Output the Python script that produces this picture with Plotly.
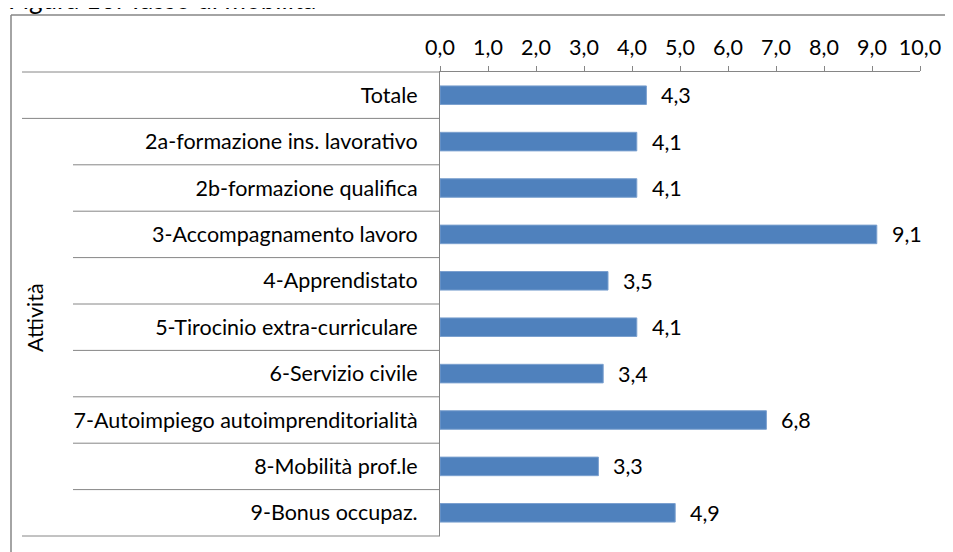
import plotly.graph_objects as go

title_text = "Figura 10. Tasso di mobilità"
categories = [
    "Totale",
    "2a-formazione ins. lavorativo",
    "2b-formazione qualifica",
    "3-Accompagnamento lavoro",
    "4-Apprendistato",
    "5-Tirocinio extra-curriculare",
    "6-Servizio civile",
    "7-Autoimpiego autoimprenditorialità",
    "8-Mobilità prof.le",
    "9-Bonus occupaz.",
]
values = [4.3, 4.1, 4.1, 9.1, 3.5, 4.1, 3.4, 6.8, 3.3, 4.9]
group_label = "Attività"
group_start = 1  # index of first category in the "Attività" group

# page has an 8px body margin; figure coordinates = page coordinates - 8
W, H = 945, 544
L, R, T, B = 432, 912, 64, 528  # plot area in figure pixels

def px_x(p):
    return (p - L) / (R - L)

def px_y(p):
    return (B - p) / (B - T)

FONT = "Lato, Carlito, Calibri, sans-serif"
FS = 21.5
GRAY = "#868686"

fig = go.Figure()
fig.add_trace(go.Bar(
    x=values,
    y=categories,
    orientation="h",
    width=0.4,
    marker=dict(color="#4F81BD", line=dict(color="#7BA0CF", width=1)),
    hoverinfo="skip",
))

n = len(categories)
shapes = []
for i in range(n + 1):
    yp = 1 - i / n
    full = (i == 0 or i == group_start or i == n)
    x0 = px_x(14) if full else px_x(65)
    shapes.append(dict(type="line", xref="paper", yref="paper",
                       x0=x0, x1=0, y0=yp, y1=yp,
                       line=dict(color=GRAY, width=1)))
# outer chart border (left and top)
shapes.append(dict(type="line", xref="paper", yref="paper",
                   x0=px_x(3), x1=px_x(3), y0=px_y(7), y1=px_y(560),
                   line=dict(color=GRAY, width=1.5)))
shapes.append(dict(type="line", xref="paper", yref="paper",
                   x0=px_x(3), x1=px_x(960), y0=px_y(7), y1=px_y(7),
                   line=dict(color=GRAY, width=1.5)))

annotations = [
    dict(text=group_label, xref="paper", yref="paper",
         x=px_x(27), y=px_y(310), textangle=-90, showarrow=False,
         xanchor="center", yanchor="middle",
         font=dict(family=FONT, size=FS, color="#000000")),
    dict(text=title_text, xref="paper", yref="paper",
         x=px_x(-2), y=px_y(9), showarrow=False,
         xanchor="left", yanchor="bottom",
         font=dict(family=FONT, size=26, color="#000000")),
]
for cat, v in zip(categories, values):
    annotations.append(dict(
        text=f"{v:.1f}".replace(".", ","), x=v, y=cat, xref="x", yref="y",
        xanchor="left", yanchor="middle", xshift=13, showarrow=False,
        font=dict(family=FONT, size=FS, color="#000000")))

fig.update_layout(
    width=W, height=H,
    margin=dict(l=L, r=W - R, t=T, b=H - B, pad=0),
    paper_bgcolor="white", plot_bgcolor="white",
    separators=",.",
    showlegend=False,
    shapes=shapes,
    annotations=annotations,
    font=dict(family=FONT, size=FS, color="#000000"),
    xaxis=dict(
        side="top", range=[0, 10], dtick=1, tick0=0, tickformat=".1f",
        ticks="outside", ticklen=5, tickcolor=GRAY, tickwidth=1,
        showline=True, linecolor=GRAY, linewidth=1,
        showgrid=False, zeroline=False,
        ticklabelstandoff=2,
        tickfont=dict(family=FONT, size=FS, color="#000000"),
    ),
    yaxis=dict(
        type="category", autorange="reversed",
        showline=True, linecolor=GRAY, linewidth=1,
        showgrid=False, zeroline=False, ticks="",
        ticklabelstandoff=17,
        tickfont=dict(family=FONT, size=FS, color="#000000"),
    ),
)

fig.write_html("out.html")
